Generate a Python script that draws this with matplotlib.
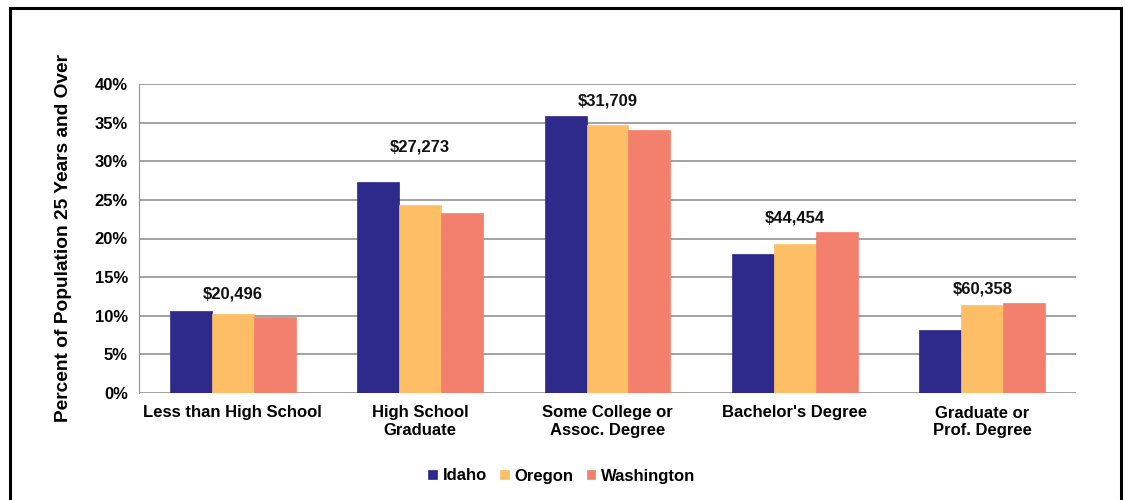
"""Educational attainment by state with median earnings labels."""
import numpy as np
import matplotlib.pyplot as plt
from matplotlib.lines import Line2D

plt.rcParams["font.family"] = ["Liberation Sans", "DejaVu Sans"]
plt.rcParams["font.weight"] = "bold"

categories = ["Less than High School", "High School\nGraduate",
              "Some College or\nAssoc. Degree", "Bachelor's Degree",
              "Graduate or\nProf. Degree"]
states = ["Idaho", "Oregon", "Washington"]
idaho = [10.6, 27.3, 35.8, 18.0, 8.2]
oregon = [10.2, 24.3, 34.7, 19.3, 11.4]
washington = [9.9, 23.3, 34.1, 20.8, 11.7]
earnings = ["$20,496", "$27,273", "$31,709", "$44,454", "$60,358"]
earnings_y = [12.8, 31.8, 37.8, 22.7, 13.4]  # label heights in %

colors = ["#2E2A8C", "#FDBE65", "#F3806C"]

fig = plt.figure(figsize=(11.25, 5), dpi=100)
ax = fig.add_axes([139 / 1125, 107 / 500, 937 / 1125, 309 / 500])

x = np.arange(len(categories))
w = 0.224
for i, (vals, name) in enumerate(zip([idaho, oregon, washington], states)):
    ax.bar(x + (i - 1) * w, vals, w, color=colors[i], label=name, zorder=3,
           edgecolor=colors[i], linewidth=0.5)

for xi, lab, yy in zip(x, earnings, earnings_y):
    ax.text(xi, yy, lab, ha="center", va="center", fontsize=12,
            fontweight="bold", color="#111111")

ax.set_xlim(-0.5, len(categories) - 0.5)
ax.set_ylim(0, 40)
ax.set_yticks(np.arange(0, 41, 5))
ax.set_yticklabels([f"{v}%" for v in range(0, 41, 5)])
ax.set_xticks(x)
ax.set_xticklabels(categories, linespacing=1.2)
ax.tick_params(axis="y", length=0, pad=8, labelsize=12)
ax.tick_params(axis="x", length=0, pad=9, labelsize=12)
ax.yaxis.grid(True, color="#929292", lw=1.2, zorder=0)
for s in ["top", "right", "bottom"]:
    ax.spines[s].set_visible(False)
ax.spines["left"].set_color("#929292")
ax.set_ylabel("Percent of Population 25 Years and Over", fontsize=13.8,
              fontweight="bold", labelpad=16)

fig.legend(loc="center", bbox_to_anchor=(562 / 1125, 1 - 476 / 500), ncol=3,
           frameon=False, fontsize=12, handlelength=0.5, handleheight=0.5,
           handletextpad=0.36, columnspacing=0.8)

# outer frame
x0, x1, y1 = 9.5 / 1125, 1120.5 / 1125, 1 - 7.5 / 500
for xs, ys in [([x0, x0], [0, y1]), ([x0, x1], [y1, y1]), ([x1, x1], [y1, 0])]:
    fig.add_artist(Line2D(xs, ys, color="black", lw=2.2,
                          transform=fig.transFigure))

plt.savefig("out.png", dpi=100)
